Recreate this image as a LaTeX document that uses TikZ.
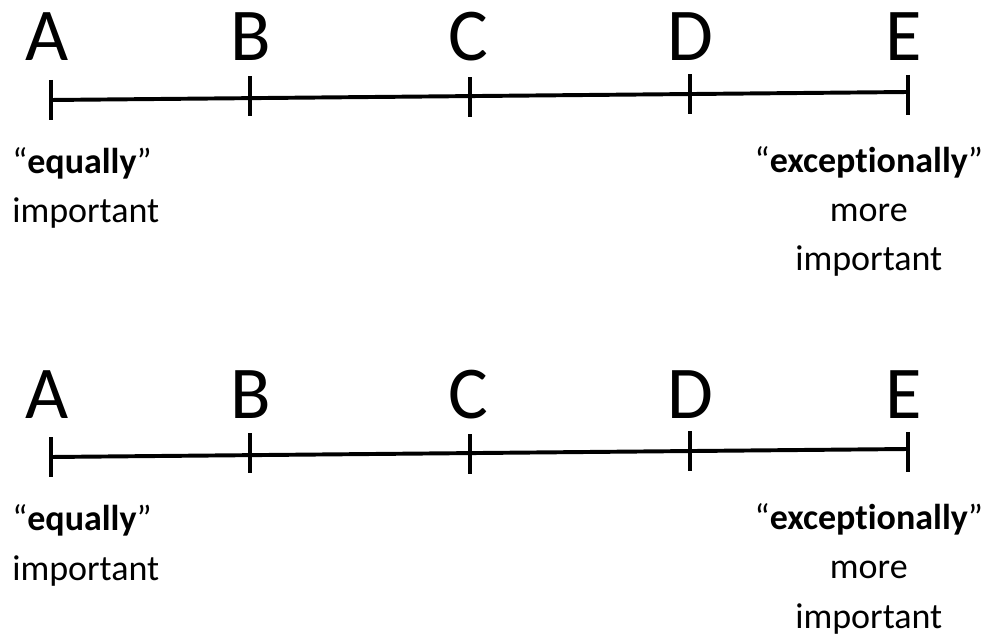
\documentclass[tikz,border=0pt]{standalone}
\usepackage{fontspec}
\setmainfont{Carlito}[Ligatures={NoCommon,NoRare}]
\usepackage{tikz}
\usetikzlibrary{positioning,calc}

\begin{document}
\begin{tikzpicture}[
    scaleline/.style={line width=2.8pt, line cap=butt},
    tickmark/.style={line width=2.8pt},
    grade/.style={anchor=base, inner sep=0pt, font=\fontsize{53}{60}\selectfont},
    note/.style={inner sep=0pt, align=center, font=\fontsize{25.6}{34.9}\selectfont}
]
    \useasboundingbox (0,0) rectangle (24.75,15.875);

    % two identical rating scales, the lower one shifted down
    \foreach \row/\dy in {up/0, lo/-8.925} {
        \begin{scope}[yshift=\dy cm]
            % tick points on the (slightly rising) scale line
            \foreach \lab/\x/\ex in {A/1.275/0, B/6.25/0.045, C/11.75/-0.03, D/17.25/0, E/22.7/-0.07} {
                \coordinate (\row\lab) at (\x, {13.375+0.2*(\x-1.275)/21.425});
                \draw[tickmark] ($(\row\lab)+(0,0.5+\ex)$) -- ($(\row\lab)+(0,-0.5+\ex)$);
            }
            \draw[scaleline] (\row A) -- (\row B) -- (\row C) -- (\row D) -- (\row E);

            % scale letters
            \node[grade] (\row LA) at (1.175,14.35) {A};
            \node[grade] (\row LB) at (6.275,14.35) {B};
            \node[grade] (\row LC) at (11.7,14.35) {C};
            \node[grade] (\row LD) at (17.25,14.35) {D};
            \node[grade] (\row LE) at (22.6,14.35) {E};

            % end descriptions (base = last line)
            \node[note, anchor=base west, align=left] (\row low) at (0.3,10.3)
                {“\textbf{equally}”\\important};
            \node[note, anchor=base] (\row high) at (21.72,9.1)
                {“\textbf{exceptionally}”\\more\\important};
        \end{scope}
    }
\end{tikzpicture}
\end{document}
